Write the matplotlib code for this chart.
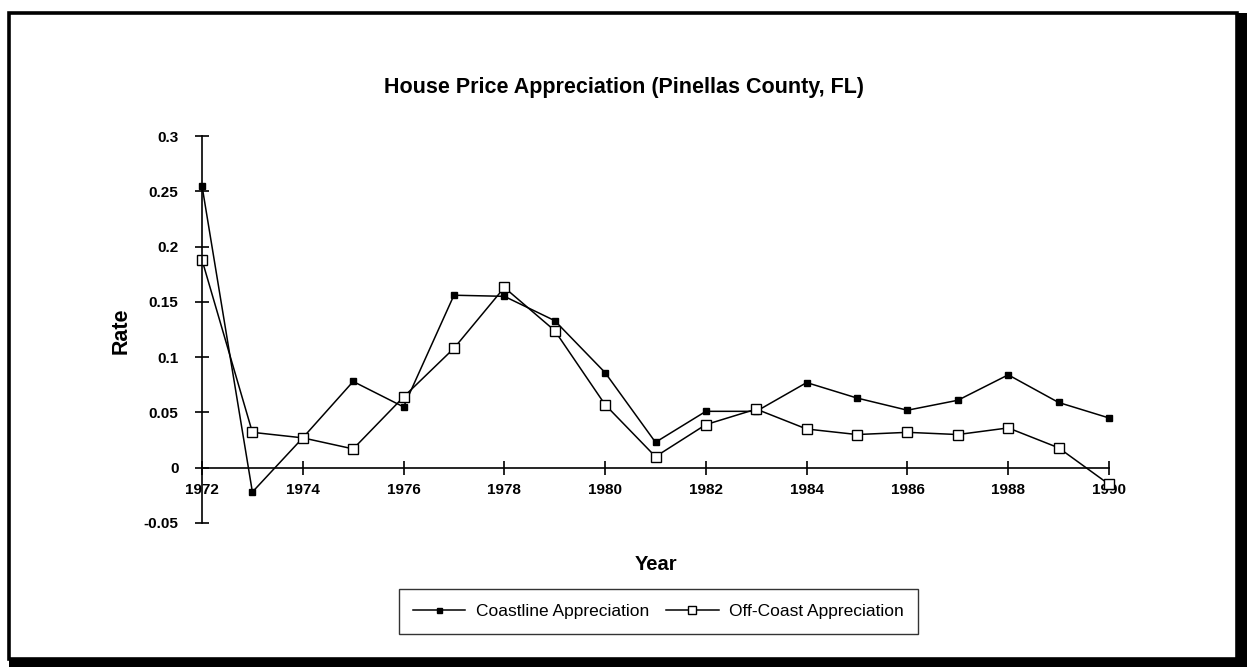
import numpy as np
import matplotlib.pyplot as plt
from matplotlib.patches import Rectangle

plt.rcParams['font.family'] = ['Liberation Sans', 'DejaVu Sans']

# appreciation rates per year
years = list(range(1972, 1991))
coastline = [0.255, -0.022, 0.027, 0.078, 0.055, 0.156, 0.155, 0.133, 0.086, 0.023,
             0.051, 0.051, 0.077, 0.063, 0.052, 0.061, 0.084, 0.059, 0.045]
off_coast = [0.188, 0.032, 0.027, 0.017, 0.064, 0.108, 0.163, 0.124, 0.057, 0.010,
             0.039, 0.053, 0.035, 0.030, 0.032, 0.030, 0.036, 0.018, -0.015]

x_ticks = list(range(1972, 1991, 2))
y_ticks = [-0.05, 0, 0.05, 0.1, 0.15, 0.2, 0.25, 0.3]
y_labels = ['-0.05', '0', '0.05', '0.1', '0.15', '0.2', '0.25', '0.3']

W, H = 1247, 667
fig = plt.figure(figsize=(W / 100, H / 100), dpi=100)

# boxed border with a heavy shadow on the right and bottom
fig.add_artist(Rectangle((1237 / W, 0), 10 / W, 1 - 13 / H, transform=fig.transFigure,
                         facecolor='black', edgecolor='none'))
fig.add_artist(Rectangle((9 / W, 0), 1 - 9 / W, 8 / H, transform=fig.transFigure,
                         facecolor='black', edgecolor='none'))
fig.add_artist(Rectangle((9 / W, 8 / H), 1228 / W, 1 - 21 / H, transform=fig.transFigure,
                         facecolor='none', edgecolor='black', linewidth=2.6))

ax = fig.add_axes([202 / W, 144 / H, 907 / W, 387 / H])

ax.plot(years, coastline, color='black', lw=1.1, marker='s', ms=4.5,
        mfc='black', mec='black', clip_on=False, label='Coastline Appreciation')
ax.plot(years, off_coast, color='black', lw=1.1, marker='s', ms=7,
        mfc='white', mec='black', mew=1.0, clip_on=False, label='Off-Coast Appreciation')

ax.set_xlim(1972, 1990)
ax.set_ylim(-0.05, 0.3)

ax.spines['top'].set_visible(False)
ax.spines['right'].set_visible(False)
ax.spines['bottom'].set_position(('data', 0))
ax.spines['left'].set_linewidth(1.2)
ax.spines['bottom'].set_linewidth(1.2)

ax.set_xticks(x_ticks)
ax.set_xticklabels([str(y) for y in x_ticks], fontsize=11, fontweight='bold')
ax.set_yticks(y_ticks)
ax.set_yticklabels(y_labels, fontsize=11, fontweight='bold')
ax.tick_params(axis='both', direction='inout', length=10, width=1.2)
ax.tick_params(axis='y', pad=12)
ax.tick_params(axis='x', pad=6)

fig.text(624 / W, 1 - 88 / H, 'House Price Appreciation (Pinellas County, FL)',
         ha='center', va='center', fontsize=15.5, fontweight='bold')
fig.text(121 / W, 1 - 331 / H, 'Rate', ha='center', va='center', rotation=90,
         fontsize=15.5, fontweight='bold')
fig.text(656 / W, 1 - 565 / H, 'Year', ha='center', va='center',
         fontsize=14.5, fontweight='bold')

leg = ax.legend(loc='center', bbox_to_anchor=(658.5 / W, 1 - 611.5 / H),
                bbox_transform=fig.transFigure, ncol=2, fontsize=12.5,
                frameon=True, fancybox=False, edgecolor='black',
                handlelength=3.0, columnspacing=1.0, borderpad=0.85,
                handletextpad=0.6, markerscale=0.8)
leg.get_frame().set_linewidth(1.0)

fig.savefig('out.png', dpi=100)
